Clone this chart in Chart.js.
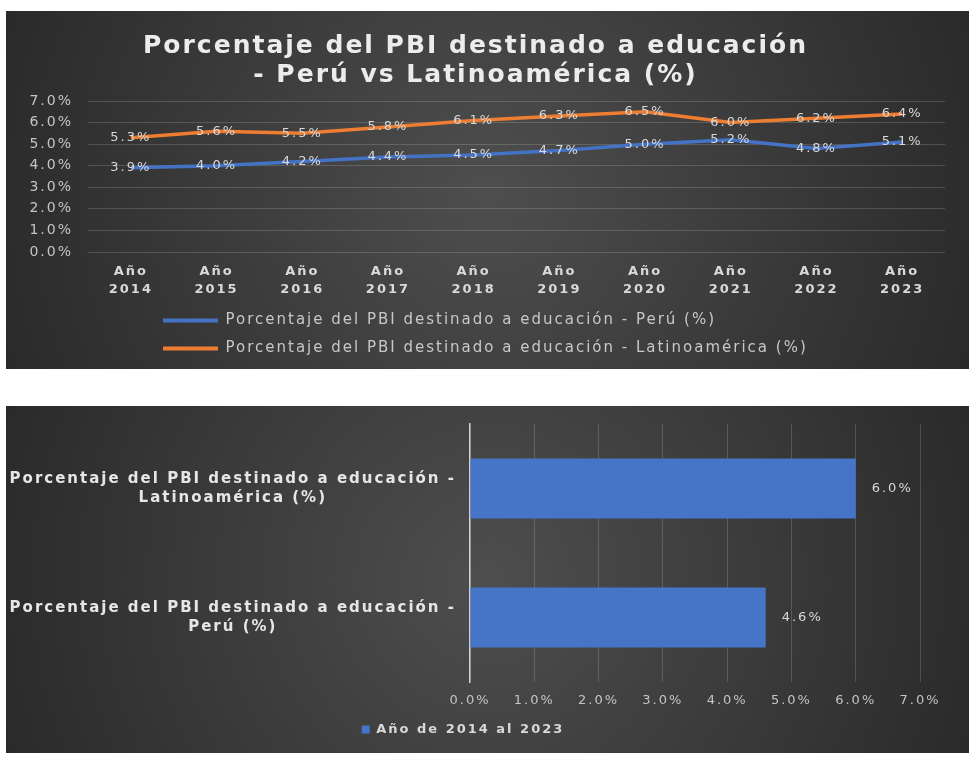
<!DOCTYPE html>
<html>
<head>
<meta charset="utf-8">
<script src="https://cdn.jsdelivr.net/npm/chart.js@4/dist/chart.umd.min.js"></script>
<style>
  html, body { margin: 0; padding: 0; background: #ffffff; }
  .panel { position: absolute; }
  #top { left: 6px; top: 11px; width: 963px; height: 358px; }
  #bottom { left: 6px; top: 406px; width: 963px; height: 347px; }
</style>
</head>
<body>
<div class="panel" id="top"><canvas id="lineChart"></canvas></div>
<div class="panel" id="bottom"><canvas id="barChart"></canvas></div>
<script>
// ---- data ----
const titleLines = ['Porcentaje del PBI destinado a educación', '- Perú vs Latinoamérica (%)'];
const years = ['2014', '2015', '2016', '2017', '2018', '2019', '2020', '2021', '2022', '2023'];
const peruLabel = 'Porcentaje del PBI destinado a educación - Perú (%)';
const latamLabel = 'Porcentaje del PBI destinado a educación - Latinoamérica (%)';
const peruValues = [3.9, 4.0, 4.2, 4.4, 4.5, 4.7, 5.0, 5.2, 4.8, 5.1];
const latamValues = [5.3, 5.6, 5.5, 5.8, 6.1, 6.3, 6.5, 6.0, 6.2, 6.4];

const avgCategories = [
    ['Porcentaje del PBI destinado a educación -', 'Latinoamérica (%)'],
    ['Porcentaje del PBI destinado a educación -', 'Perú (%)']
];
const avgLabel = 'Año de 2014 al 2023';
const avgValues = [6.0, 4.6];

const BLUE = '#4472c4';
const ORANGE = '#ed7d31';
const TXT = '#d9d9d9';
const GRID = 'rgba(255,255,255,0.16)';
const FONT = '"DejaVu Sans", sans-serif';

Chart.defaults.font.family = FONT;
Chart.defaults.color = TXT;

const pct = v => Number(v).toFixed(1) + '%';

// dark radial background like the office chart style
const darkBg = {
    id: 'darkBg',
    beforeDraw(chart) {
        const { ctx, width, height } = chart;
        const g = ctx.createRadialGradient(width / 2, height / 2, 0, width / 2, height / 2, width * 0.62);
        g.addColorStop(0, '#4e4e4e');
        g.addColorStop(1, '#242424');
        ctx.save();
        ctx.fillStyle = g;
        ctx.fillRect(0, 0, width, height);
        ctx.restore();
    }
};

// wide letter spacing of the source text
const spacing = (px) => ({
    id: 'spacing',
    beforeUpdate(chart) { chart.ctx.letterSpacing = px; },
    beforeDraw(chart) { chart.ctx.letterSpacing = px; }
});

const lineValueLabels = {
    id: 'lineValueLabels',
    afterDatasetsDraw(chart) {
        const ctx = chart.ctx;
        ctx.save();
        ctx.font = '13px ' + FONT;
        ctx.fillStyle = TXT;
        ctx.textAlign = 'center';
        ctx.textBaseline = 'middle';
        chart.data.datasets.forEach((ds, i) => {
            chart.getDatasetMeta(i).data.forEach((pt, j) => {
                ctx.fillText(pct(ds.data[j]), pt.x, pt.y);
            });
        });
        ctx.restore();
    }
};

const barValueLabels = {
    id: 'barValueLabels',
    afterDatasetsDraw(chart) {
        const ctx = chart.ctx;
        ctx.save();
        ctx.font = '13px ' + FONT;
        ctx.fillStyle = TXT;
        ctx.textAlign = 'left';
        ctx.textBaseline = 'middle';
        chart.data.datasets.forEach((ds, i) => {
            chart.getDatasetMeta(i).data.forEach((bar, j) => {
                ctx.fillText(pct(ds.data[j]), bar.x + 16, bar.y);
            });
        });
        ctx.restore();
    }
};

// legend rows start left-aligned under the plot, like the source
const legendShift = {
    id: 'legendShift',
    afterLayout(chart) {
        chart.legend.left = 144;
    }
};

const noStroke = chart => Chart.defaults.plugins.legend.labels.generateLabels(chart)
    .map(item => Object.assign(item, { lineWidth: 0 }));

// ==========================================
// 1. line chart: Perú vs Latinoamérica
// ==========================================
new Chart(document.getElementById('lineChart'), {
    type: 'line',
    data: {
        labels: years.map(y => ['Año', y]),
        datasets: [
            { label: peruLabel, data: peruValues, borderColor: BLUE, backgroundColor: BLUE, borderWidth: 3.5, pointRadius: 0, tension: 0 },
            { label: latamLabel, data: latamValues, borderColor: ORANGE, backgroundColor: ORANGE, borderWidth: 3.5, pointRadius: 0, tension: 0 }
        ]
    },
    options: {
        responsive: true, maintainAspectRatio: false, animation: false,
        layout: { padding: { left: 0, right: 24, top: 0, bottom: 3 } },
        plugins: {
            tooltip: { enabled: false },
            title: {
                display: true,
                text: titleLines,
                color: '#ececec',
                font: { size: 25, weight: 'bold', lineHeight: 1.16 },
                padding: { top: 21, bottom: 11 }
            },
            legend: {
                position: 'bottom',
                align: 'start',
                labels: {
                    color: '#c8c8c8',
                    font: { size: 15 },
                    boxWidth: 55, boxHeight: 4,
                    padding: 13,
                    generateLabels: noStroke
                }
            }
        },
        scales: {
            x: {
                offset: true,
                grid: { display: false, drawTicks: false },
                border: { display: false },
                ticks: { color: TXT, font: { size: 13, weight: 'bold', lineHeight: 1.38 }, padding: 11, maxRotation: 0, autoSkip: false },
                afterFit: s => { s.height = 48; }
            },
            y: {
                min: 0, max: 7,
                grid: { color: GRID, drawTicks: false },
                border: { display: false },
                ticks: { stepSize: 1, color: '#c4c4c4', font: { size: 14 }, padding: 15, callback: v => pct(v) },
                afterFit: s => { s.width = 82; }
            }
        }
    },
    plugins: [spacing('2px'), darkBg, lineValueLabels, legendShift]
});

// ==========================================
// 2. horizontal bar: average 2014-2023
// ==========================================
new Chart(document.getElementById('barChart'), {
    type: 'bar',
    data: {
        labels: avgCategories,
        datasets: [{
            label: avgLabel,
            data: avgValues,
            backgroundColor: '#4674c6',
            borderWidth: 0,
            categoryPercentage: 1,
            barPercentage: 0.465
        }]
    },
    options: {
        indexAxis: 'y',
        responsive: true, maintainAspectRatio: false, animation: false,
        layout: { padding: { left: 0, right: 49, top: 0, bottom: 7 } },
        plugins: {
            tooltip: { enabled: false },
            legend: {
                position: 'bottom',
                labels: { color: TXT, font: { size: 13, weight: 'bold' }, boxWidth: 8, boxHeight: 8, padding: 10 }
            }
        },
        scales: {
            x: {
                min: 0, max: 7,
                grid: { color: GRID, drawTicks: false },
                border: { display: false },
                ticks: { stepSize: 1, color: '#c4c4c4', font: { size: 13 }, padding: 11, callback: v => pct(v) },
                afterFit: s => { s.height = 31; }
            },
            y: {
                grid: { display: false, drawTicks: false },
                border: { display: true, color: '#d0d0d0', width: 1.5 },
                ticks: { color: '#e6e6e6', crossAlign: 'center', font: { size: 15, weight: 'bold', lineHeight: 1.27 }, padding: 14 },
                afterFit: s => { s.width = 464; s.paddingTop = 18; s.paddingBottom = 0; }
            }
        }
    },
    plugins: [spacing('2px'), darkBg, barValueLabels]
});
</script>
</body>
</html>
